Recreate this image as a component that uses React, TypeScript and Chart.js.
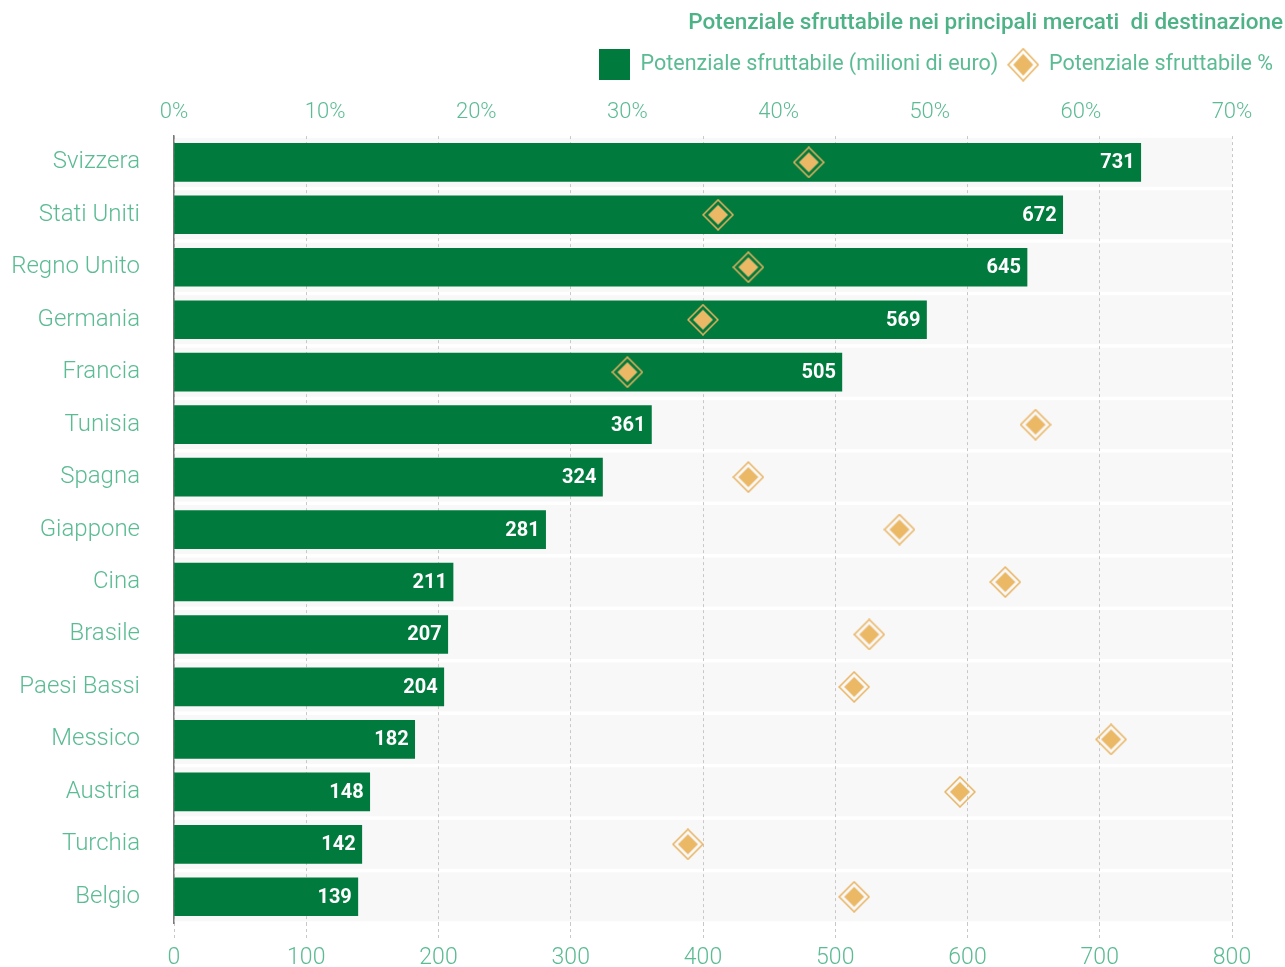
import React, { useEffect, useRef } from "react";
import { Chart, registerables } from "chart.js";

Chart.register(...registerables);

const categories = [
  "Svizzera", "Stati Uniti", "Regno Unito", "Germania", "Francia", "Tunisia", "Spagna",
  "Giappone", "Cina", "Brasile", "Paesi Bassi", "Messico", "Austria", "Turchia", "Belgio",
];
const valuesMln = [731, 672, 645, 569, 505, 361, 324, 281, 211, 207, 204, 182, 148, 142, 139];
const valuesPct = [42, 36, 38, 35, 30, 57, 38, 48, 55, 46, 45, 62, 52, 34, 45];

const titleText = "Potenziale sfruttabile nei principali mercati  di destinazione";
const legendMln = "Potenziale sfruttabile (milioni di euro)";
const legendPct = "Potenziale sfruttabile %";

const GREEN = "#007a3d";
const ORANGE = "#ebb866";
const ORANGE_LINE = "#e8b360";
const TEXT = "#5bbb93";
const TITLE = "#4db286";
const FONT = "Roboto, 'Noto Sans', sans-serif";

function makeDiamond(hw: number, hh: number, ihw: number, ihh: number) {
  const w = Math.ceil(hw * 2 + 2);
  const h = Math.ceil(hh * 2 + 2);
  const c = document.createElement("canvas");
  c.width = w;
  c.height = h;
  const ctx = c.getContext("2d")!;
  const cx = w / 2, cy = h / 2;
  ctx.beginPath();
  ctx.moveTo(cx, cy - hh);
  ctx.lineTo(cx + hw, cy);
  ctx.lineTo(cx, cy + hh);
  ctx.lineTo(cx - hw, cy);
  ctx.closePath();
  ctx.strokeStyle = ORANGE_LINE;
  ctx.lineWidth = 1.5;
  ctx.stroke();
  ctx.beginPath();
  ctx.moveTo(cx, cy - ihh);
  ctx.lineTo(cx + ihw, cy);
  ctx.lineTo(cx, cy + ihh);
  ctx.lineTo(cx - ihw, cy);
  ctx.closePath();
  ctx.fillStyle = ORANGE;
  ctx.fill();
  return c;
}

function makeSquare(s: number) {
  const c = document.createElement("canvas");
  c.width = s;
  c.height = s;
  const ctx = c.getContext("2d")!;
  ctx.fillStyle = GREEN;
  ctx.fillRect(0, 0, s, s);
  return c;
}

const bandsPlugin = {
  id: "bands",
  beforeDraw(chart: any) {
    const { ctx, chartArea, scales } = chart;
    const y = scales.y;
    ctx.save();
    ctx.fillStyle = "#f8f8f8";
    for (let i = 0; i < categories.length; i++) {
      const c = y.getPixelForValue(i);
      ctx.fillRect(chartArea.left, c - 24.5, chartArea.right - chartArea.left, 49);
    }
    ctx.restore();
  },
};

const valueLabelsPlugin = {
  id: "valueLabels",
  afterDatasetsDraw(chart: any) {
    const { ctx } = chart;
    const meta = chart.getDatasetMeta(0);
    ctx.save();
    ctx.fillStyle = "#ffffff";
    ctx.font = `bold 20px ${FONT}`;
    ctx.textAlign = "right";
    ctx.textBaseline = "middle";
    meta.data.forEach((bar: any, i: number) => {
      ctx.fillText(String(valuesMln[i]), bar.x - 6, bar.y + 1);
    });
    ctx.restore();
  },
};

export default function App() {
  const ref = useRef<HTMLCanvasElement>(null);

  useEffect(() => {
    const diamond = makeDiamond(15, 15, 10, 10);
    const legendDiamond = makeDiamond(15, 16, 10, 11);
    const square = makeSquare(31);

    const chart = new Chart(ref.current!, {
      type: "bar",
      data: {
        labels: categories,
        datasets: [
          {
            type: "bar",
            label: legendMln,
            data: valuesMln,
            backgroundColor: GREEN,
            barThickness: 38,
            xAxisID: "x",
            yAxisID: "y",
            order: 1,
          } as any,
          {
            type: "line",
            label: legendPct,
            data: valuesPct,
            indexAxis: "y",
            showLine: false,
            pointStyle: diamond,
            xAxisID: "xTop",
            yAxisID: "y",
            order: 0,
          } as any,
        ],
      },
      options: {
        indexAxis: "y",
        animation: false,
        responsive: true,
        maintainAspectRatio: false,
        devicePixelRatio: 1,
        layout: { padding: { left: 0, right: 2, top: 0, bottom: 0 } },
        plugins: {
          tooltip: { enabled: false },
          title: {
            display: true,
            text: titleText,
            align: "end",
            color: TITLE,
            font: { family: FONT, size: 22.5, weight: "500" },
            padding: { top: 10, bottom: 7 },
          },
          legend: {
            display: true,
            align: "end",
            labels: {
              usePointStyle: true,
              pointStyleWidth: 30,
              padding: 10,
              color: TEXT,
              font: { family: FONT, size: 21.5, weight: "400" },
              generateLabels: () => [
                {
                  text: legendMln,
                  pointStyle: square,
                  fillStyle: GREEN,
                  strokeStyle: GREEN,
                  lineWidth: 0,
                  hidden: false,
                  datasetIndex: 0,
                  fontColor: TEXT,
                } as any,
                {
                  text: legendPct,
                  pointStyle: legendDiamond,
                  fillStyle: ORANGE,
                  strokeStyle: ORANGE,
                  lineWidth: 0,
                  hidden: false,
                  datasetIndex: 1,
                  fontColor: TEXT,
                } as any,
              ],
            },
          },
        },
        scales: {
          x: {
            type: "linear",
            position: "bottom",
            min: 0,
            max: 800,
            ticks: {
              stepSize: 100,
              color: TEXT,
              font: { family: FONT, size: 23, weight: "300" },
              padding: 6,
            },
            grid: {
              color: "#c8c8c8",
              lineWidth: 1,
              tickLength: 15,
              tickBorderDash: [3, 3],
              tickColor: "#c8c8c8",
            },
            border: { display: false, dash: [3, 3] },
            afterFit: (s: any) => {
              s.height = 44;
            },
          },
          xTop: {
            type: "linear",
            position: "top",
            min: 0,
            max: 70,
            ticks: {
              stepSize: 10,
              color: TEXT,
              font: { family: FONT, size: 22, weight: "300" },
              padding: 10.5,
              callback: (v: any) => v + "%",
            },
            grid: { display: false, drawOnChartArea: false, drawTicks: false },
            border: { display: false },
            afterFit: (s: any) => {
              s.height = s.height + 3.2;
            },
          },
          y: {
            type: "category",
            position: "left",
            ticks: {
              color: TEXT,
              font: { family: FONT, size: 24, weight: "300" },
              padding: 34,
            },
            grid: { display: false, drawTicks: false },
            border: { display: true, color: "#7a7a7a", width: 1.5 },
            afterFit: (s: any) => {
              s.width = 174;
              s.paddingTop = 0;
              s.paddingBottom = 0;
            },
          },
          yRight: {
            type: "linear",
            position: "right",
            display: true,
            ticks: { display: false },
            grid: { display: false, drawTicks: false },
            border: { display: false },
            afterFit: (s: any) => {
              s.width = 51;
              s.paddingTop = 0;
              s.paddingBottom = 0;
            },
          },
        },
      },
      plugins: [bandsPlugin, valueLabelsPlugin],
    });
    return () => chart.destroy();
  }, []);

  return (
    <div style={{ position: "absolute", left: 0, top: 0, width: 1285, height: 967 }}>
      <canvas ref={ref} />
    </div>
  );
}
